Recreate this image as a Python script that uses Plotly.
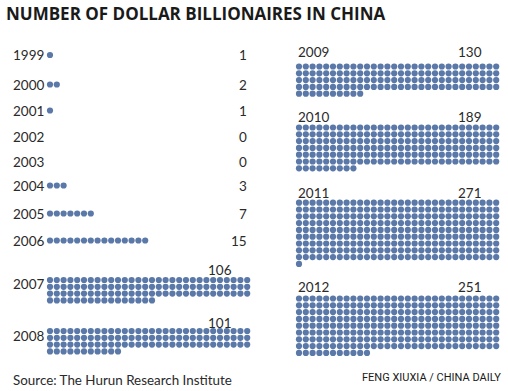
import plotly.graph_objects as go

# ---- data ----
small_years = ["1999", "2000", "2001", "2002", "2003", "2004", "2005", "2006"]
small_counts = [1, 2, 1, 0, 0, 3, 7, 15]
block_left_years = ["2007", "2008"]
block_left_counts = [106, 101]
block_right_years = ["2009", "2010", "2011", "2012"]
block_right_counts = [130, 189, 271, 251]
title = "NUMBER OF DOLLAR BILLIONAIRES IN CHINA"
source = "Source: The Hurun Research Institute"
credit = "FENG XIUXIA / CHINA DAILY"

# ---- layout constants ----
W, H = 508, 391
COLS = 30
DX, DY = 6.8, 6.8
DOT = 6.2
COLOR = "#5A78A8"
TXT = "#2a2a2a"
FONT = "Lato"
LEFT_X0, RIGHT_X0 = 50, 299
small_y = [55, 84.5, 110.5, 136.5, 161.5, 185.5, 213.5, 240.5]
left_block_row0 = [280, 331]
left_block_label_y = [284, 336]
left_block_value_y = [269.5, 322.5]
right_block_row0 = [66.5, 127.5, 202.7, 298.5]
right_block_label_y = [52, 117, 193, 286.5]

xs, ys = [], []
annotations = []


def add_dots(n, x0, y0):
    for i in range(n):
        xs.append(x0 + (i % COLS) * DX)
        ys.append(y0 + (i // COLS) * DY)


def label(text, x, y, anchor, size=13.5, color=TXT, family=FONT):
    annotations.append(dict(
        text=text, x=x, y=y, xref="x", yref="y", xanchor=anchor, yanchor="middle",
        showarrow=False, font=dict(family=family, size=size, color=color)))


for yr, n, y in zip(small_years, small_counts, small_y):
    add_dots(n, LEFT_X0, y)
    label(yr, 11, y, "left")
    label(str(n), 249, y, "right")

for yr, n, y0, ly, vy in zip(block_left_years, block_left_counts, left_block_row0,
                              left_block_label_y, left_block_value_y):
    add_dots(n, LEFT_X0, y0)
    label(yr, 11, ly, "left")
    label(str(n), 234, vy, "right")

for yr, n, y0, ly in zip(block_right_years, block_right_counts, right_block_row0,
                         right_block_label_y):
    add_dots(n, RIGHT_X0, y0)
    label(yr, 296, ly, "left")
    label(str(n), 484, ly, "right")

annotations.append(dict(
    text="<b>" + title + "</b>", x=4, y=13, xref="x", yref="y", xanchor="left",
    yanchor="middle", showarrow=False,
    font=dict(family="Open Sans", size=17, color="#1a1a1a")))
label(source, 11, 380, "left", size=13.4)
label(credit, 503, 377, "right", size=11, color="#1a1a1a", family="Roboto")

fig = go.Figure(go.Scatter(
    x=xs, y=ys, mode="markers", hoverinfo="skip",
    marker=dict(size=DOT, color=COLOR, line=dict(width=0))))

fig.update_layout(
    width=W, height=H, margin=dict(l=0, r=0, t=0, b=0),
    paper_bgcolor="white", plot_bgcolor="white", showlegend=False,
    xaxis=dict(range=[0, W], visible=False, fixedrange=True),
    yaxis=dict(range=[H, 0], visible=False, fixedrange=True),
    annotations=annotations)

fig.write_html("out.html", config={"displayModeBar": False},
               post_script="document.body.style.margin='0px';document.body.style.overflow='hidden';")
